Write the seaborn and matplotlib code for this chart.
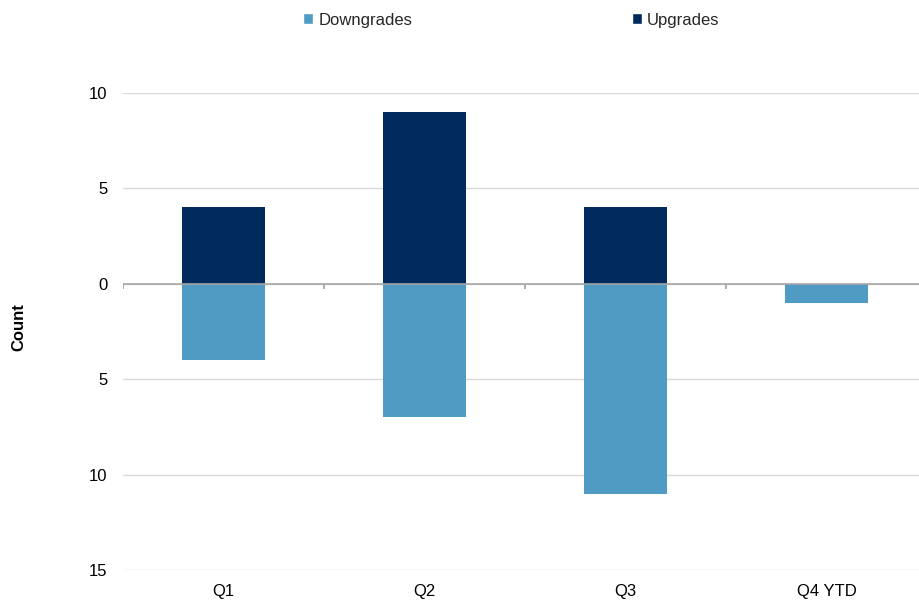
import matplotlib
matplotlib.use("Agg")
import matplotlib.pyplot as plt
import seaborn as sns
import pandas as pd
import numpy as np
from matplotlib.patches import Patch
from matplotlib.ticker import FuncFormatter, FixedLocator

categories = ["Q1", "Q2", "Q3", "Q4 YTD"]
upgrades = [4, 9, 4, 0]
downgrades = [-4, -7, -11, -1]
y_ticks = [10, 5, 0, -5, -10, -15]

sns.set_theme(style="white")
plt.rcParams['font.family'] = ['Liberation Sans', 'DejaVu Sans']

df = pd.DataFrame({
    "Quarter": categories * 2,
    "Count": upgrades + downgrades,
    "Series": ["Upgrades"] * 4 + ["Downgrades"] * 4,
})
colors = {"Downgrades": "#4F9BC3", "Upgrades": "#002B5C"}

fig = plt.figure(figsize=(9.19, 6.03), dpi=100)
ax = fig.add_axes([123 / 919, 33 / 603, 804 / 919, 477 / 603])
sns.barplot(data=df, x="Quarter", y="Count", hue="Series", palette=colors,
            dodge=False, width=0.41, ax=ax, legend=False, saturation=1, linewidth=0)

ax.set_xlim(-0.5, 3.5)
ax.set_ylim(-15, 10)
ax.yaxis.set_major_locator(FixedLocator(y_ticks))
ax.yaxis.set_major_formatter(FuncFormatter(lambda v, p: f"{abs(v):g}"))
ax.yaxis.grid(True, color="#D9D9D9", lw=1)
ax.set_axisbelow(True)
for s in ax.spines.values():
    s.set_visible(False)
ax.axhline(0, color="#A6A6A6", lw=1.3, zorder=3, alpha=0.9)
ax.vlines(np.arange(-0.5, len(categories), 1), 0, -0.27, color="#A6A6A6", lw=1.3, zorder=3)

ax.tick_params(axis="x", length=0, pad=10, labelsize=12, colors="black")
ax.tick_params(axis="y", length=0, pad=11, labelsize=12, colors="black")
ax.set_xlabel("")
ax.set_ylabel("Count", fontsize=12, fontweight="bold", color="black")
ax.yaxis.set_label_coords(-0.12, 0.51)

handles = [Patch(facecolor=colors["Downgrades"], label="Downgrades"),
           Patch(facecolor=colors["Upgrades"], label="Upgrades")]
fig.legend(handles=handles, loc="center", bbox_to_anchor=(511.5 / 919, 1 - 20 / 603),
           ncol=2, frameon=False, fontsize=12, handlelength=0.6, handleheight=0.6,
           handletextpad=0.3, columnspacing=13.2, borderaxespad=0)

fig.savefig("out.png", dpi=100)
